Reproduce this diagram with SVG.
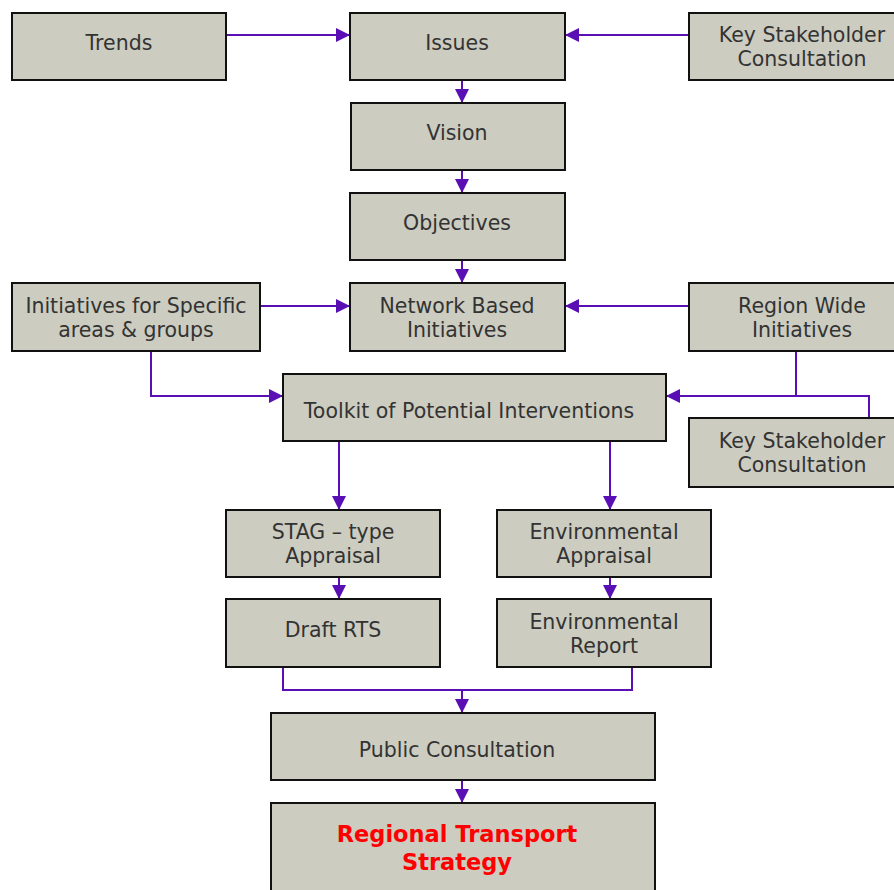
<svg xmlns="http://www.w3.org/2000/svg" width="894" height="890" viewBox="0 0 894 890">
<defs>
<style>
.box{fill:#CCCCC0;stroke:#111;stroke-width:2}
.t{font-family:"DejaVu Sans",Verdana,sans-serif;font-size:20.5px;fill:#333;text-anchor:middle}
.r{font-family:"DejaVu Sans",Verdana,sans-serif;font-size:22.5px;font-weight:bold;fill:#FF0000;text-anchor:middle}
.c{fill:none;stroke:#5A0FB4;stroke-width:2}
</style>
<marker id="b" viewBox="0 0 14 14" refX="14" refY="7" markerWidth="14" markerHeight="14" markerUnits="userSpaceOnUse" orient="auto">
<path d="M0,0 L14,7 L0,14 z" fill="#5A0FB4"/>
</marker>
</defs>
<rect width="894" height="890" fill="#fff"/>
<g id="connectors">
<path class="c" d="M226,35 H350" marker-end="url(#b)"/>
<path class="c" d="M689,35 H565" marker-end="url(#b)"/>
<path class="c" d="M462,80 V103" marker-end="url(#b)"/>
<path class="c" d="M462,170 V193" marker-end="url(#b)"/>
<path class="c" d="M462,260 V283" marker-end="url(#b)"/>
<path class="c" d="M260,306 H350" marker-end="url(#b)"/>
<path class="c" d="M689,306 H565" marker-end="url(#b)"/>
<path class="c" d="M151,351 V396 H283" marker-end="url(#b)"/>
<path class="c" d="M796,351 V396 H666" marker-end="url(#b)"/>
<path class="c" d="M869,418 V396 H796"/>
<path class="c" d="M339,441 V510" marker-end="url(#b)"/>
<path class="c" d="M610,441 V510" marker-end="url(#b)"/>
<path class="c" d="M339,577 V599" marker-end="url(#b)"/>
<path class="c" d="M610,577 V599" marker-end="url(#b)"/>
<path class="c" d="M283,667 V690 H632 V667"/>
<path class="c" d="M462,690 V713" marker-end="url(#b)"/>
<path class="c" d="M462,780 V803" marker-end="url(#b)"/>
</g>
<g id="trends"><rect class="box" x="12" y="13" width="214" height="67"/><text class="t" x="119" y="50">Trends</text></g>
<g id="issues"><rect class="box" x="350" y="13" width="215" height="67"/><text class="t" x="457" y="50">Issues</text></g>
<g id="ksc1"><rect class="box" x="689" y="13" width="215" height="67"/><text class="t" x="802" y="42">Key Stakeholder</text><text class="t" x="802" y="66">Consultation</text></g>
<g id="vision"><rect class="box" x="351" y="103" width="214" height="67"/><text class="t" x="457" y="140">Vision</text></g>
<g id="objectives"><rect class="box" x="350" y="193" width="215" height="67"/><text class="t" x="457" y="230">Objectives</text></g>
<g id="initiatives"><rect class="box" x="12" y="283" width="248" height="68"/><text class="t" x="136" y="313">Initiatives for Specific</text><text class="t" x="136" y="337">areas &amp; groups</text></g>
<g id="network"><rect class="box" x="350" y="283" width="215" height="68"/><text class="t" x="457" y="313">Network Based</text><text class="t" x="457" y="337">Initiatives</text></g>
<g id="region"><rect class="box" x="689" y="283" width="215" height="68"/><text class="t" x="802" y="313">Region Wide</text><text class="t" x="802" y="337">Initiatives</text></g>
<g id="toolkit"><rect class="box" x="283" y="374" width="383" height="67"/><text class="t" x="469" y="418">Toolkit of Potential Interventions</text></g>
<g id="ksc2"><rect class="box" x="689" y="418" width="215" height="69"/><text class="t" x="802" y="448">Key Stakeholder</text><text class="t" x="802" y="472">Consultation</text></g>
<g id="stag"><rect class="box" x="226" y="510" width="214" height="67"/><text class="t" x="333" y="539">STAG – type</text><text class="t" x="333" y="563">Appraisal</text></g>
<g id="envapp"><rect class="box" x="497" y="510" width="214" height="67"/><text class="t" x="604" y="539">Environmental</text><text class="t" x="604" y="563">Appraisal</text></g>
<g id="draft"><rect class="box" x="226" y="599" width="214" height="68"/><text class="t" x="333" y="637">Draft RTS</text></g>
<g id="envrep"><rect class="box" x="497" y="599" width="214" height="68"/><text class="t" x="604" y="629">Environmental</text><text class="t" x="604" y="653">Report</text></g>
<g id="public"><rect class="box" x="271" y="713" width="384" height="67"/><text class="t" x="457" y="757">Public Consultation</text></g>
<g id="rts"><rect class="box" x="271" y="803" width="384" height="100"/><text class="r" x="457" y="842">Regional Transport</text><text class="r" x="457" y="870">Strategy</text></g>
</svg>
